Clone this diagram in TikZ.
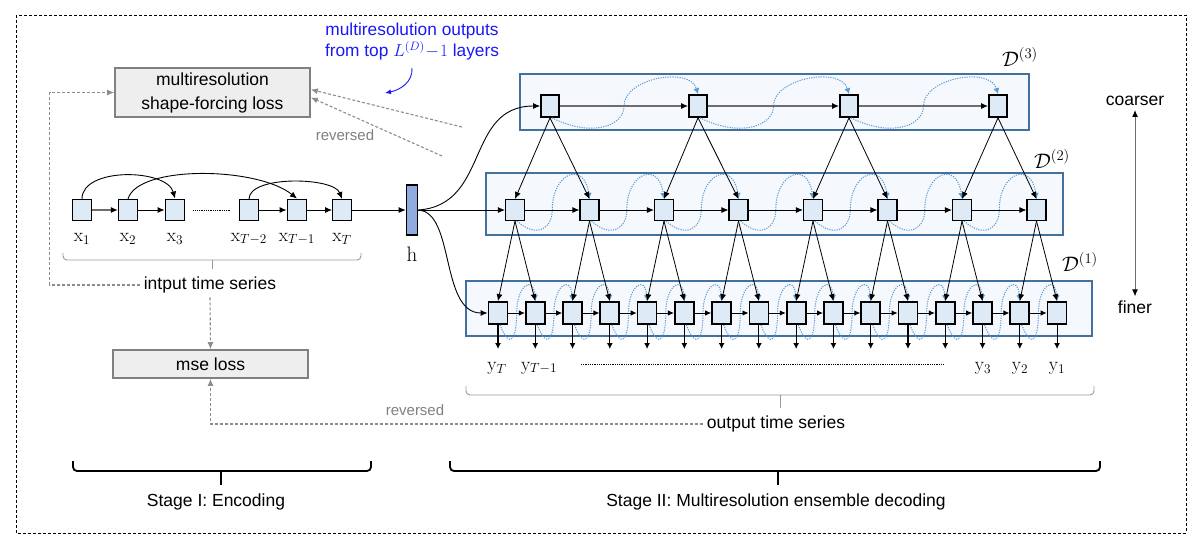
\RequirePackage{fix-cm}
\documentclass[tikz,border=0pt]{standalone}
\usepackage{fontspec}
\newfontfamily\arial{Liberation Sans}
\usetikzlibrary{arrows.meta,calc}
\definecolor{nodefill}{RGB}{222,234,246}
\definecolor{layerfill}{RGB}{245,248,252}
\definecolor{layerdraw}{RGB}{65,113,156}
\definecolor{hfill}{RGB}{143,170,220}
\definecolor{lossfill}{RGB}{238,238,238}
\definecolor{lossdraw}{RGB}{128,128,128}
\definecolor{dashg}{RGB}{140,140,140}
\definecolor{bluec}{RGB}{91,155,213}
\definecolor{annblue}{RGB}{25,25,245}
\definecolor{hgray}{RGB}{110,110,110}
\newcommand\scurv[6]{\draw[sc] ([xshift=2pt]#1.south) .. controls +(#3,#4) and +(0,#4) .. ($(#1.south)!.5!(#2.north)$) .. controls +(0,-#5) and +(-#6,-#5) .. (#2.north);}
\begin{document}
\begin{tikzpicture}[x=1pt,y=-1pt,
  arr/.style={-{Latex[length=7pt,width=6pt]}},
  harr/.style={draw=hgray,line width=1.4pt,-{Latex[length=7pt,width=6pt,color=black]}},
  cell/.style={draw=black,fill=nodefill,inner sep=0pt,minimum width=19pt,minimum height=21pt},
  layer/.style={draw=layerdraw,fill=layerfill,line width=1.8pt,inner sep=0pt},
  sc/.style={draw=bluec,line width=1pt,dash pattern=on 1.2pt off 1.2pt,-{Latex[length=6pt,width=6pt,color=bluec]}},
  txt/.style={font=\arial\fontsize{17.5}{21}\selectfont,inner sep=4pt},
  rev/.style={font=\arial\fontsize{15}{18}\selectfont,text=lossdraw,inner sep=2pt},
  mlab/.style={font=\fontsize{19}{22}\selectfont,inner sep=1pt},
  dlab/.style={font=\fontsize{21}{24}\selectfont,inner sep=1pt},
  lossbox/.style={draw=lossdraw,fill=lossfill,line width=1.6pt,inner sep=2pt,font=\arial\fontsize{17.5}{24}\selectfont,align=center},
  gdash/.style={draw=dashg,line width=1.1pt,dash pattern=on 3pt off 2pt},
  garr/.style={-{Latex[length=7pt,width=6pt,color=dashg]}},
  brc/.style={draw=lossdraw!80,line width=0.9pt,rounded corners=4pt},
  sbrc/.style={draw=black,line width=1.8pt,rounded corners=4pt}
]
\useasboundingbox (0,0) rectangle (1204,539);
\draw[line width=0.8pt,dash pattern=on 3pt off 2pt] (16,15) rectangle (1186,533);

% ---------------- encoder ----------------
\node[cell,line width=1.3pt] (x1) at (82,210) {};
\node[cell,line width=1.3pt] (x2) at (128,210) {};
\node[cell,line width=1.9pt] (x3) at (175,210) {};
\node[cell,line width=0.9pt] (x4) at (249,210) {};
\node[cell,line width=1.9pt] (x5) at (297,210) {};
\node[cell,line width=0.9pt] (x6) at (342,210) {};
\node[mlab] (lx1) at (82,239) {$\mathrm{x}_1$};
\node[mlab] (lx2) at (128,239) {$\mathrm{x}_2$};
\node[mlab] (lx3) at (175,239) {$\mathrm{x}_3$};
\node[mlab] (lx4) at (249,239) {$\mathrm{x}_{T-2}$};
\node[mlab] (lx5) at (297,239) {$\mathrm{x}_{T-1}$};
\node[mlab] (lx6) at (342,239) {$\mathrm{x}_{T}$};
\draw[harr,line width=1.2pt] (x1) -- (x2);
\draw[arr,line width=0.9pt] (x2) -- (x3);
\draw[arr,line width=0.9pt] (x4) -- (x5);
\draw[arr,line width=0.9pt] (x5) -- (x6);
\path (x3.east) ++(8,0) coordinate (dd1) (x4.west) ++(-8,0) coordinate (dd2);
\draw[line width=1pt,dash pattern=on 0.9pt off 0.9pt] (dd1) -- (dd2);
\draw[arr,line width=0.9pt] (x1.north) .. controls +(0,-32) and +(-8,-30) .. (x3.north);
\draw[arr,line width=0.9pt] (x2.north) .. controls +(10,-34) and +(-40,-32) .. (x5.north);
\draw[arr,line width=0.9pt] (x4.north) .. controls +(0,-24) and +(-8,-22) .. (x6.north);

\node[draw=black,line width=1.6pt,fill=hfill,minimum width=11pt,minimum height=50pt,inner sep=0pt] (h) at (412,210) {};
\node[dlab] (hl) at (412,254) {$\mathrm{h}$};
\draw[arr,line width=0.9pt] (x6) -- (h);

% input brace
\draw[brc] (63,253) |- (212,260) -| (361,253);
\draw[draw=lossdraw!80,line width=0.9pt] (212,260) -- (212,269);
\node[txt] (its) at (210,285) {intput time series};

% ---------------- decoder layers ----------------
\node[layer,minimum width=509pt,minimum height=56pt] (L3) at (774.5,102) {};
\node[layer,minimum width=577pt,minimum height=62pt] (L2) at (774.5,204) {};
\node[layer,minimum width=626pt,minimum height=55pt] (L1) at (779,308.5) {};
\node[dlab] (D3) at (1020,57) {$\mathcal{D}^{(3)}$};
\node[dlab] (D2) at (1052,159) {$\mathcal{D}^{(2)}$};
\node[dlab] (D1) at (1080,262) {$\mathcal{D}^{(1)}$};

\foreach \xx [count=\i from 0] in {550,698,849,998}
  \node[cell,line width=1.7pt,minimum width=18pt,minimum height=22pt] (a\i) at (\xx,106) {};
\foreach \i in {0,...,7}
  \node[cell,line width=1.1pt] (b\i) at ({515+74.5*\i},210) {};
\foreach \i in {0,...,15}
  \node[cell,line width=1.8pt,minimum height=22pt] (c\i) at ({498+37.27*\i},313) {};

% blue s-curves
\foreach \i in {0,1,2} {\pgfmathtruncatemacro\j{\i+1}\scurv{a\i}{a\j}{40}{20}{28}{8}}
\foreach \i in {0,...,6} {\pgfmathtruncatemacro\j{\i+1}\scurv{b\i}{b\j}{20}{18}{38}{5}}
\foreach \i in {0,...,14} {\pgfmathtruncatemacro\j{\i+1}\scurv{c\i}{c\j}{10}{26}{27}{2}}

% horizontal arrows
\foreach \i in {0,1,2} {\pgfmathtruncatemacro\j{\i+1}\draw[harr] (a\i) -- (a\j);}
\foreach \i in {0,...,6} {\pgfmathtruncatemacro\j{\i+1}\draw[arr,line width=0.9pt] (b\i) -- (b\j);}
\foreach \i in {0,...,14} {\pgfmathtruncatemacro\j{\i+1}\draw[line width=0.9pt,-{Latex[length=6pt,width=5.5pt]}] (c\i) -- (c\j);}

% between layers
\foreach \i in {0,...,3} {\pgfmathtruncatemacro\j{2*\i}\pgfmathtruncatemacro\k{2*\i+1}
  \draw[arr,line width=0.8pt] (a\i.south) -- (b\j.north);
  \draw[arr,line width=0.8pt] (a\i.south) -- (b\k.north);}
\foreach \i in {0,...,7} {\pgfmathtruncatemacro\j{2*\i}\pgfmathtruncatemacro\k{2*\i+1}
  \draw[arr,line width=0.8pt] (b\i.south) -- (c\j.north);
  \draw[arr,line width=0.8pt] (b\i.south) -- (c\k.north);}

% from h
\draw[arr,line width=0.9pt] (h.east) -- (b0.west);
\draw[arr,line width=0.9pt] (h.east) .. controls (490,205) and (465,106) .. (a0.west);
\draw[arr,line width=0.9pt] (h.east) .. controls (455,212) and (440,313) .. (c0.west);

% outputs
\foreach \i in {0,...,15} {\coordinate (o\i) at ({498+37.27*\i},349);
  \draw[line width=1.1pt,-{Latex[length=6pt,width=6pt]}] (c\i.south) -- (o\i);}
\node[mlab] (yT) at (497,368) {$\mathrm{y}_T$};
\node[mlab] (yT1) at (539,368) {$\mathrm{y}_{T-1}$};
\node[mlab] (y3) at (983,368) {$\mathrm{y}_3$};
\node[mlab] (y2) at (1020,368) {$\mathrm{y}_2$};
\node[mlab] (y1) at (1057,368) {$\mathrm{y}_1$};
\coordinate (od1) at (581,364);
\coordinate (od2) at (944,364);
\draw[line width=1pt,dash pattern=on 0.9pt off 0.9pt] (od1) -- (od2);
\draw[brc] (466,386) |- (780,395) -| (1094,386);
\draw[draw=lossdraw!80,line width=0.9pt] (780,395) -- (780,408);
\node[txt] (ots) at (776,424) {output time series};

% ---------------- losses ----------------
\node[lossbox,minimum width=195pt,minimum height=49pt] (msf) at (212.5,92.5) {multiresolution\\shape-forcing loss};
\node[lossbox,minimum width=195pt,minimum height=28pt] (mse) at (210.5,364) {mse loss};
\draw[gdash,garr] (its.west) -- ++(-90,0) |- (msf.west);
\draw[gdash,garr] (its.south) -- (mse.north);
\draw[gdash,garr] (ots.west) -| (mse.south);
\node[rev] (rv1) at (415,410) {reversed};
\node[rev] (rv2) at (345,135) {reversed};
\coordinate (g1) at (462,127);
\coordinate (g2) at (442,156);
\draw[gdash,garr] (g1) -- ([yshift=3pt]msf.east);
\draw[gdash,garr] (g2) -- ([yshift=-5pt]msf.east);

% annotation
\node[txt,text=annblue,align=center,font=\arial\fontsize{17.3}{21}\selectfont] (ann) at (412,42) {multiresolution outputs\\from top $L^{(D)}\!-\!1$ layers};
\coordinate (ans) at (412,68);
\coordinate (ane) at (385,93);
\draw[annblue,line width=0.9pt,-{Latex[length=6pt,width=5pt]}] (ans) .. controls (413,82) and (400,90) .. (ane);

% coarser / finer
\node[txt] (co) at (1135,101) {coarser};
\node[txt] (fi) at (1135,307) {finer};
\draw[draw=hgray,line width=1pt,{Latex[length=7pt,width=6pt,color=black]}-{Latex[length=7pt,width=6pt,color=black]}] (co.south) -- (fi.north);

% stages
\draw[sbrc] (73,461) |- (221,471) -| (371,461);
\draw[line width=1.8pt] (221,471) -- (221,485);
\node[txt] (s1) at (216,502) {Stage I: Encoding};
\draw[sbrc] (450,461) |- (778,471) -| (1100,461);
\draw[line width=1.8pt] (778,471) -- (778,485);
\node[txt] (s2) at (776,502) {Stage II: Multiresolution ensemble decoding};
\end{tikzpicture}
\end{document}
